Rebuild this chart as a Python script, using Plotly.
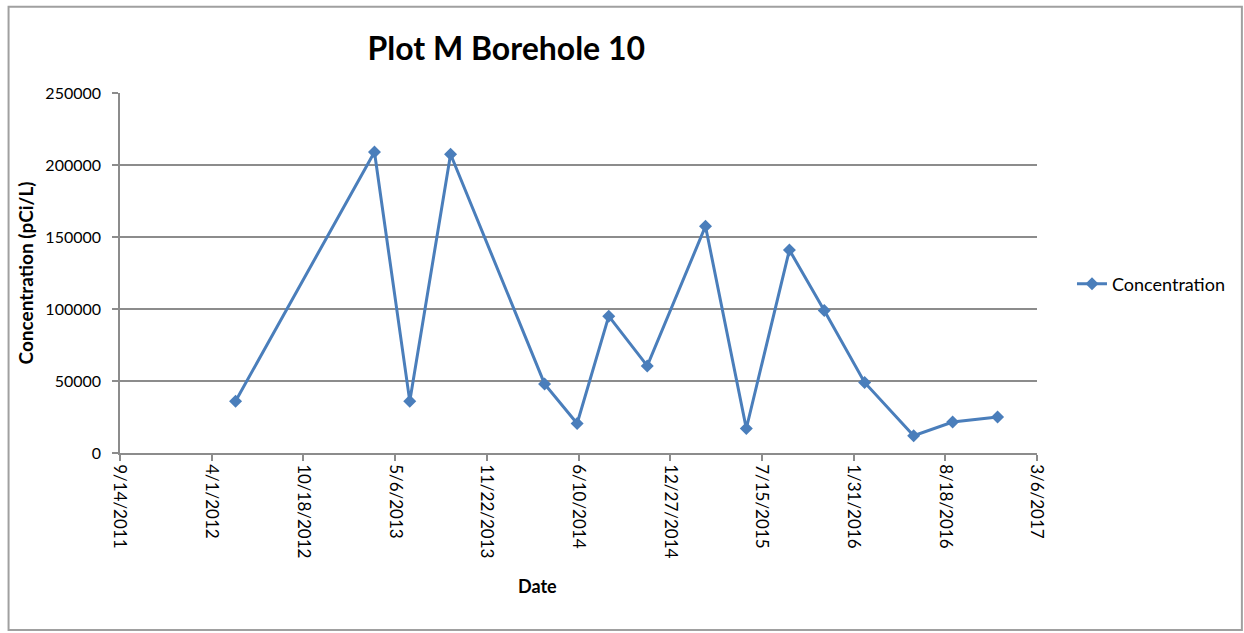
import plotly.graph_objects as go

# Data
dates = ["2012-05-23", "2013-03-22", "2013-06-07", "2013-09-04", "2014-03-28",
         "2014-06-07", "2014-08-15", "2014-11-07", "2015-03-14", "2015-06-11",
         "2015-09-13", "2015-11-28", "2016-02-24", "2016-06-10", "2016-09-03",
         "2016-12-10"]
concentration = [36000, 209000, 36000, 207500, 48000,
                 20500, 95000, 60500, 157500, 17000,
                 141000, 99000, 49000, 12000, 21500,
                 25000]

tick_dates = ["2011-09-14", "2012-04-01", "2012-10-18", "2013-05-06", "2013-11-22",
              "2014-06-10", "2014-12-27", "2015-07-15", "2016-01-31", "2016-08-18",
              "2017-03-06"]
tick_labels = ["9/14/2011", "4/1/2012", "10/18/2012", "5/6/2013", "11/22/2013",
               "6/10/2014", "12/27/2014", "7/15/2015", "1/31/2016", "8/18/2016",
               "3/6/2017"]
y_ticks = [0, 50000, 100000, 150000, 200000, 250000]
y_labels = ["0", "50000", "100000", "150000", "200000", "250000"]

BLUE = "#4a7ebb"
GRID = "#8c8c8c"
FONT = "Lato"

fig = go.Figure()
fig.add_trace(go.Scatter(
    x=dates, y=concentration, mode="lines+markers", name="Concentration",
    line=dict(color=BLUE, width=3),
    marker=dict(symbol="diamond", size=10, color=BLUE),
))

W, H = 1244, 633
L, R, T, B = 119.5, 1037, 92.5, 453.5
pw, ph = R - L, B - T

def px_x(x):
    return (x - L) / pw

def px_y(y):
    return (B - y) / ph

fig.update_layout(
    width=W, height=H,
    margin=dict(l=L, r=W - R, t=T, b=H - B, pad=0),
    paper_bgcolor="white", plot_bgcolor="white",
    font=dict(family=FONT, color="#000000"),
    title=dict(text="<b>Plot M Borehole 10</b>", font=dict(size=32, family=FONT),
               xref="paper", x=px_x(506), xanchor="center",
               yref="container", y=1 - 49 / H, yanchor="middle"),
    showlegend=True,
    legend=dict(x=px_x(1072), y=px_y(284), xanchor="left", yanchor="middle",
                font=dict(size=18, family=FONT), bgcolor="rgba(0,0,0,0)"),
    xaxis=dict(
        type="date",
        range=[tick_dates[0], tick_dates[-1]],
        tickmode="array", tickvals=tick_dates, ticktext=tick_labels,
        tickangle=90, tickfont=dict(size=17, family=FONT),
        showgrid=False, zeroline=False,
        showline=True, linecolor=GRID, linewidth=1.5,
        ticks="outside", ticklen=6, tickcolor=GRID, tickwidth=1.5,
    ),
    yaxis=dict(
        range=[0, 250000],
        tickmode="array", tickvals=y_ticks, ticktext=y_labels,
        tickfont=dict(size=16, family=FONT),
        ticklabelstandoff=8,
        showgrid=True, gridcolor=GRID, gridwidth=1.5,
        zeroline=False,
        showline=True, linecolor=GRID, linewidth=1.5,
        ticks="outside", ticklen=6, tickcolor=GRID, tickwidth=1.5,
        title=dict(text="<b>Concentration (pCi/L)</b>", font=dict(size=19, family=FONT),
                   standoff=7),
    ),
)

fig.add_annotation(text="<b>Date</b>", xref="paper", yref="paper",
                   x=px_x(537), y=px_y(587), showarrow=False,
                   font=dict(size=18, family=FONT), xanchor="center", yanchor="middle")

fig.add_shape(type="rect", xref="paper", yref="paper",
              x0=px_x(8), x1=px_x(1242), y0=px_y(631), y1=px_y(6),
              line=dict(color="#a0a0a0", width=2), fillcolor="rgba(0,0,0,0)", layer="below")

fig.write_html("out.html", config={"displayModeBar": False},
               post_script="document.body.style.margin='0';document.body.style.overflow='hidden';")
